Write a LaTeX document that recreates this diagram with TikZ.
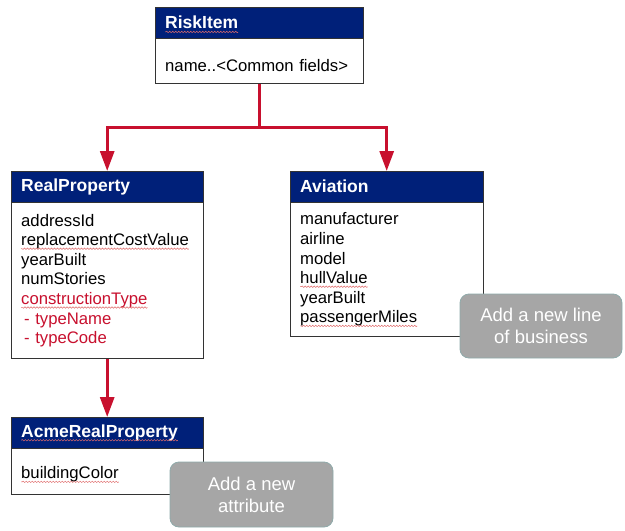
\documentclass[tikz,border=0pt]{standalone}
\usepackage{fontspec}
\setmainfont{Liberation Sans}
\usetikzlibrary{arrows.meta,positioning,decorations.pathmorphing}
\usepackage{xcolor}
\definecolor{cnavy}{HTML}{002079}
\definecolor{cr}{HTML}{C8102E}
\definecolor{cgr}{HTML}{A6A6A6}
\definecolor{cbd}{HTML}{8FAAAA}
\definecolor{csq}{HTML}{E06A6A}
\newsavebox{\sqbox}
\newlength{\sqlen}
\newcommand{\sq}[1]{\sbox{\sqbox}{#1}\setlength{\sqlen}{\wd\sqbox}\usebox{\sqbox}%
  \tikz[overlay,baseline=0pt]\draw[csq,line width=0.5pt,decorate,decoration={snake,amplitude=0.7pt,segment length=3pt}] (0,-3pt) -- ++(-\sqlen,0);}

\begin{document}
\begin{tikzpicture}[
  x=1pt,y=1pt,
  hdr/.style={rectangle,draw=black!80,fill=cnavy,text=white,font=\fontsize{17.5}{20}\selectfont\bfseries,anchor=north west,minimum height=31pt,inner xsep=10pt,align=left,text width=#1},
  body/.style={rectangle,draw=black!80,fill=white,font=\fontsize{16.7}{19.6}\selectfont,inner xsep=10pt,align=left,text width=#1},
  note/.style={rectangle,rounded corners=9pt,fill=cgr,draw=cbd,thick,text=white,font=\fontsize{18.5}{22}\selectfont,align=center,minimum width=162pt,minimum height=64pt},
  edge/.style={-{Triangle[length=20pt,width=14pt]},line width=3pt,cr}
]
  \useasboundingbox (0,0) rectangle (625,-531);

  % Base class
  \node[hdr=188pt] (riskH) at (155,-7) {\sq{RiskItem}};
  \node[body=188pt,below=0pt of riskH,minimum height=45pt,text height=20pt] (riskB) {name..<Common fields>};

  % Lines of business
  \node[hdr=172pt] (realH) at (11,-171) {RealProperty};
  \node[body=172pt,below=0pt of realH,minimum height=156pt] (realB)
    {addressId\\\sq{replacementCostValue}\\yearBuilt\\numStories\\
     {\color{cr}\sq{constructionType}}\\{\color{cr}\hspace{3pt}- typeName}\\{\color{cr}\hspace{3pt}- typeCode}};

  \node[hdr=173pt] (avH) at (290,-171) {Aviation};
  \node[body=173pt,below=0pt of avH,minimum height=134pt] (avB)
    {manufacturer\\airline\\model\\\sq{hullValue}\\yearBuilt\\\sq{passengerMiles}};

  % Customer extension
  \node[hdr=172pt] (acmeH) at (11,-417) {\sq{AcmeRealProperty}};
  \node[body=172pt,below=0pt of acmeH,minimum height=46pt,text height=18pt] (acmeB) {\sq{buildingColor}};

  % Callouts
  \node[note] (lobNote) at (541,-326) {Add a new line\\of business};
  \node[note,minimum width=163pt,minimum height=65pt] (attrNote) at (251.5,-494.5) {Add a new\\attribute};

  % Inheritance arrows
  \draw[edge] (riskB.south) -- ++(0,-44) coordinate (split) -| (realH.north);
  \draw[edge] (split) -| (avH.north);
  \draw[edge] (realB.south) -- (acmeH.north);
\end{tikzpicture}
\end{document}
